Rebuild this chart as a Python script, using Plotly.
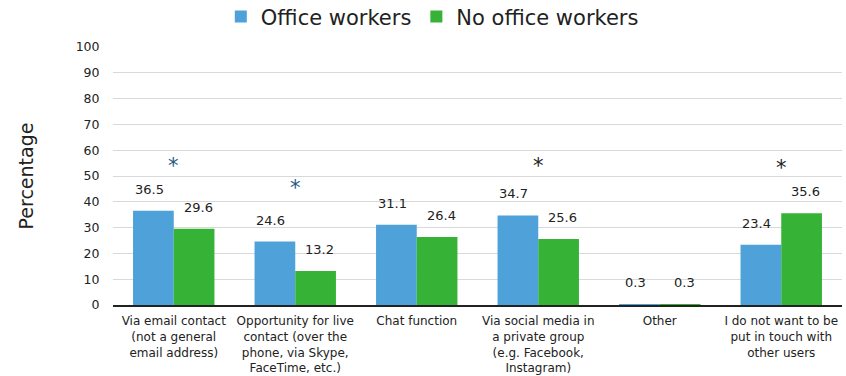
import plotly.graph_objects as go

categories = [
    "Via email contact<br>(not a general<br>email address)",
    "Opportunity for live<br>contact (over the<br>phone, via Skype,<br>FaceTime, etc.)",
    "Chat function",
    "Via social media in<br>a private group<br>(e.g. Facebook,<br>Instagram)",
    "Other",
    "I do not want to be<br>put in touch with<br>other users",
]
office = [36.5, 24.6, 31.1, 34.7, 0.3, 23.4]
no_office = [29.6, 13.2, 26.4, 25.6, 0.3, 35.6]

# significance markers: (category index, height, colour)
stars = [(0, 54, "#1f5a86"), (1, 45.5, "#1f5a86"), (3, 54, "#222222"), (5, 53, "#222222")]

BLUE = "#4ea1d9"
GREEN = "#36b336"
FONT = "DejaVu Sans"

fig = go.Figure()
fig.add_trace(go.Bar(name="Office workers", x=categories, y=office, marker_color=BLUE,
                     marker_line_width=0))
fig.add_trace(go.Bar(name="No office workers", x=categories, y=no_office, marker_color=GREEN,
                     marker_line_width=0))

ann = []
for i, c in enumerate(categories):
    for val, off in ((office[i], -0.2), (no_office[i], 0.2)):
        ann.append(dict(x=i + off, y=val, xref="x", yref="y", text=f"{val:.1f}",
                        showarrow=False, yanchor="bottom", yshift=12,
                        font=dict(family=FONT, size=13, color="#222222")))
for i, h, col in stars:
    ann.append(dict(x=i, y=h, xref="x", yref="y", text="*", showarrow=False,
                    yanchor="middle", font=dict(family=FONT, size=21, color=col)))

fig.update_layout(
    width=846, height=376,
    margin=dict(l=113, r=4, t=47, b=71),
    paper_bgcolor="white", plot_bgcolor="white",
    barmode="group", bargap=0.33, bargroupgap=0,
    font=dict(family=FONT, color="#222222"),
    legend=dict(orientation="h", x=0.438, xanchor="center", y=0.955, yanchor="middle",
                yref="container", font=dict(family=FONT, size=21),
                itemwidth=30, traceorder="normal", tracegroupgap=0),
    annotations=ann,
    xaxis=dict(type="category", tickfont=dict(size=12), showline=True, linecolor="#222222",
               linewidth=2, ticks="outside", ticklen=4, tickcolor="rgba(0,0,0,0)",
               automargin=False),
    yaxis=dict(range=[0, 100], dtick=10, showgrid=True, gridcolor="#d9d9d9", gridwidth=1,
               tickfont=dict(size=12.5), ticks="outside", ticklen=10,
               tickcolor="rgba(0,0,0,0)", zeroline=False, automargin=False,
               title=dict(text="Percentage", font=dict(size=19), standoff=36)),
)
fig.write_html("out.html")
